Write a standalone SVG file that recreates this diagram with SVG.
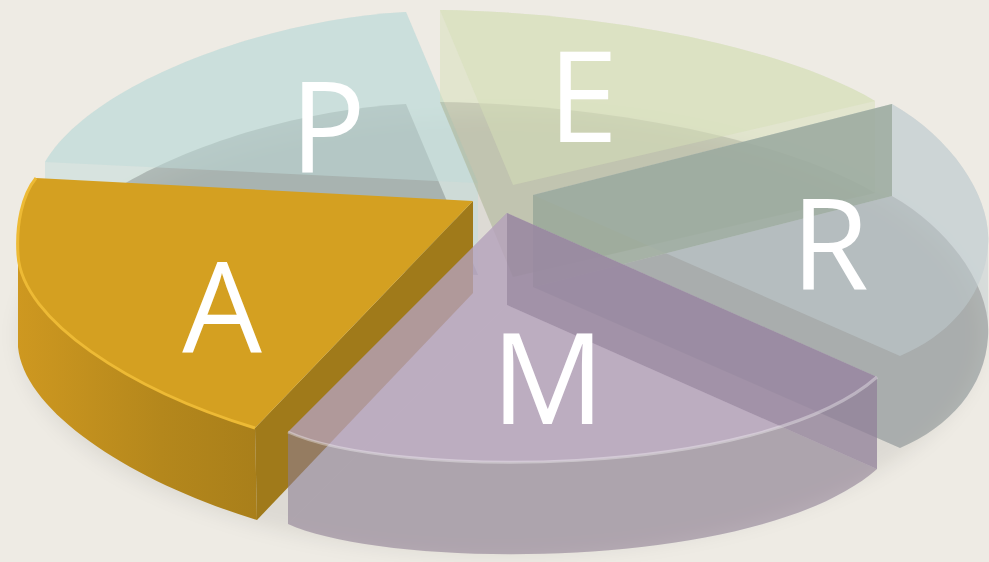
<svg xmlns="http://www.w3.org/2000/svg" width="989" height="562" viewBox="0 0 989 562">
<defs>
<style>
.lbl{font-family:"Open Sans","Noto Sans","Liberation Sans",sans-serif;font-size:126px;fill:#ffffff;text-anchor:middle}
.half{fill-opacity:0.5}
.shade{fill:#000000;fill-opacity:0.18}
.lite{fill:#000000;fill-opacity:0.11}
</style>
<filter id="blur" x="-10%" y="-10%" width="120%" height="120%"><feGaussianBlur stdDeviation="9"/></filter>
<linearGradient id="aside" x1="0" y1="0" x2="1" y2="0">
<stop offset="0" stop-color="#CE9820"/>
<stop offset="0.6" stop-color="#B4871C"/>
<stop offset="1" stop-color="#A97F1A"/>
</linearGradient>
</defs>
<rect width="989" height="562" fill="#EEEBE4"/>
<ellipse cx="500" cy="335" rx="482" ry="220" fill="#000" fill-opacity="0.07" filter="url(#blur)"/>

<g id="slice-P">
<path class="half" fill="#BFDCD9" d="M406,12 C260,20 90,85 45,162 L45,254 L478,275 L478,183 Z"/>
<path class="shade" d="M478,275 L45,254 C90,177 260,112 406,104 Z"/>
<path class="half" fill="#BFDCD9" d="M478,183 L45,162 C90,85 260,20 406,12 Z"/>
<text class="lbl" x="328" y="173">P</text>
</g>

<g id="slice-E">
<path class="half" fill="#D6E0B8" d="M440,10 C600,12 780,45 875,101 L875,193 L513,277 L440,102 Z"/>
<path class="lite" d="M513,277 L440,102 C600,104 780,137 875,193 Z"/>
<path class="half" fill="#D6E0B8" d="M513,185 L440,10 C600,12 780,45 875,101 Z"/>
<text class="lbl" x="583" y="142">E</text>
</g>

<g id="slice-R">
<path class="half" fill="#C1CED1" d="M533,195 L892,104 C955,140 992,200 988,245 L988,337 C985,387 950,427 900,448 L533,287 Z"/>
<path class="shade" d="M533,287 L892,196 C955,232 992,292 988,337 C985,387 950,427 900,448 Z"/>
<path class="half" fill="#C1CED1" d="M533,195 L892,104 C955,140 992,200 988,245 C985,295 950,335 900,356 Z"/>
<path class="half" fill="#7D8F79" d="M533,195 L892,104 L892,196 L533,287 Z"/>
<text class="lbl" x="830" y="290">R</text>
</g>

<g id="slice-A">
<path fill="url(#aside)" d="M18,255 C22,320 130,390 255,428 L257,520 C132,482 24,412 18,347 Z"/>
<path fill="#A07A1A" d="M255,428 L473,201 L473,293 L257,520 Z"/>
<path fill="#D4A021" d="M473,201 L36,178 C22,195 16,225 18,255 C22,320 130,390 255,428 Z"/>
<path fill="none" stroke="#EDBA35" stroke-width="3" d="M36,178 C22,195 16,225 18,255 C22,320 130,390 255,428"/>
<text class="lbl" x="222" y="353">A</text>
</g>

<g id="slice-M">
<path class="half" fill="#CBB5D4" d="M507,213 L288,432 L288,524 C390,570 760,572 877,469 L877,377 Z"/>
<path class="shade" d="M507,305 L288,524 C390,570 760,572 877,469 Z"/>
<path class="shade" d="M507,213 L288,432 L288,524 L507,305 Z"/>
<path class="half" fill="#CBB5D4" d="M507,213 L288,432 C390,478 760,480 877,377 Z"/>
<path class="half" fill="#74657C" d="M507,213 L877,377 L877,469 L507,305 Z"/>
<path fill="none" stroke="#ffffff" stroke-opacity="0.35" stroke-width="3" d="M288,432 C390,478 760,480 877,377"/>
<text class="lbl" x="548" y="424">M</text>
</g>
</svg>
